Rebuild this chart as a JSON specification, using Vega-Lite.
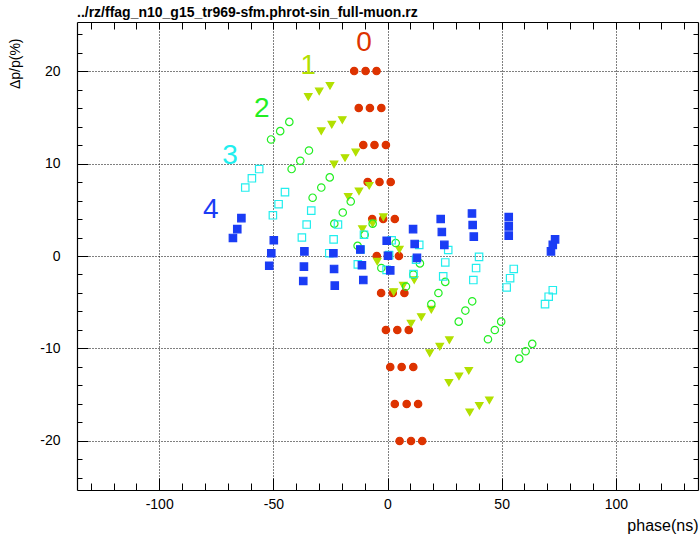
{
  "$schema": "https://vega.github.io/schema/vega-lite/v6.json",
  "width": 621,
  "height": 468,
  "autosize": "none",
  "padding": {"left": 77, "top": 22, "right": 2, "bottom": 49},
  "background": "white",
  "title": {"text": "../rz/ffag_n10_g15_tr969-sfm.phrot-sin_full-muon.rz", "anchor": "start", "frame": "group", "font": "Liberation Sans", "fontSize": 14, "fontWeight": "bold", "color": "#000000", "baseline": "bottom", "offset": 4, "dy": 16},
  "config": {
    "view": {"stroke": null},
    "axis": {"domainColor": "#000000", "domainWidth": 1.2, "tickColor": "#000000", "tickWidth": 1, "labelColor": "#000000", "titleColor": "#000000", "labelFont": "Liberation Sans", "titleFont": "Liberation Sans", "labelFontSize": 14, "titleFontSize": 16, "titleFontWeight": "normal", "gridColor": "#000000", "gridDash": [1, 2], "gridWidth": 1}
  },
  "datasets": {
    "pts": [
      {"s": "0", "x": -14.6, "y": 20}, {"s": "0", "x": -9.6, "y": 20}, {"s": "0", "x": -4.8, "y": 20},
      {"s": "0", "x": -12.6, "y": 16}, {"s": "0", "x": -7.7, "y": 16}, {"s": "0", "x": -2.7, "y": 16},
      {"s": "0", "x": -10.6, "y": 12}, {"s": "0", "x": -5.7, "y": 12}, {"s": "0", "x": -0.7, "y": 12},
      {"s": "0", "x": -8.7, "y": 8}, {"s": "0", "x": -3.5, "y": 8}, {"s": "0", "x": 1.4, "y": 8},
      {"s": "0", "x": -6.7, "y": 4}, {"s": "0", "x": -1.9, "y": 4}, {"s": "0", "x": 3.2, "y": 4},
      {"s": "0", "x": -4.7, "y": 0}, {"s": "0", "x": 0.2, "y": 0}, {"s": "0", "x": 5.0, "y": 0},
      {"s": "0", "x": -2.8, "y": -4}, {"s": "0", "x": 2.3, "y": -4}, {"s": "0", "x": 7.4, "y": -4},
      {"s": "0", "x": -0.7, "y": -8}, {"s": "0", "x": 4.3, "y": -8}, {"s": "0", "x": 9.3, "y": -8},
      {"s": "0", "x": 1.2, "y": -12}, {"s": "0", "x": 6.2, "y": -12}, {"s": "0", "x": 11.3, "y": -12},
      {"s": "0", "x": 3.2, "y": -16}, {"s": "0", "x": 8.4, "y": -16}, {"s": "0", "x": 13.4, "y": -16},
      {"s": "0", "x": 5.3, "y": -20}, {"s": "0", "x": 10.3, "y": -20}, {"s": "0", "x": 15.2, "y": -20},
      {"s": "1", "x": -34.7, "y": 17.2}, {"s": "1", "x": -29.9, "y": 17.8}, {"s": "1", "x": -25.2, "y": 18.4},
      {"s": "1", "x": -29.0, "y": 13.5}, {"s": "1", "x": -24.4, "y": 14.2}, {"s": "1", "x": -19.8, "y": 14.7},
      {"s": "1", "x": -23.4, "y": 9.9}, {"s": "1", "x": -18.6, "y": 10.6}, {"s": "1", "x": -13.9, "y": 11.2},
      {"s": "1", "x": -17.2, "y": 6.4}, {"s": "1", "x": -12.5, "y": 7.0}, {"s": "1", "x": -8.0, "y": 7.6},
      {"s": "1", "x": -11.0, "y": 2.9}, {"s": "1", "x": -6.5, "y": 3.5}, {"s": "1", "x": -1.8, "y": 4.2},
      {"s": "1", "x": -4.5, "y": -0.6}, {"s": "1", "x": 0.3, "y": 0.05}, {"s": "1", "x": 5.2, "y": 0.7},
      {"s": "1", "x": 2.7, "y": -3.9}, {"s": "1", "x": 6.9, "y": -3.2}, {"s": "1", "x": 11.7, "y": -2.6},
      {"s": "1", "x": 10.3, "y": -7.3}, {"s": "1", "x": 14.8, "y": -6.6}, {"s": "1", "x": 19.2, "y": -5.8},
      {"s": "1", "x": 18.5, "y": -10.5}, {"s": "1", "x": 22.9, "y": -9.8}, {"s": "1", "x": 27.1, "y": -9.1},
      {"s": "1", "x": 26.9, "y": -13.7}, {"s": "1", "x": 31.3, "y": -13.0}, {"s": "1", "x": 35.6, "y": -12.4},
      {"s": "1", "x": 36.0, "y": -16.9}, {"s": "1", "x": 40.2, "y": -16.2}, {"s": "1", "x": 44.6, "y": -15.6},
      {"s": "2", "x": -51.0, "y": 12.6}, {"s": "2", "x": -47.0, "y": 13.5}, {"s": "2", "x": -43.0, "y": 14.5},
      {"s": "2", "x": -42.0, "y": 9.4}, {"s": "2", "x": -38.2, "y": 10.3}, {"s": "2", "x": -34.4, "y": 11.4},
      {"s": "2", "x": -32.8, "y": 6.3}, {"s": "2", "x": -29.0, "y": 7.4}, {"s": "2", "x": -25.3, "y": 8.5},
      {"s": "2", "x": -23.3, "y": 3.5}, {"s": "2", "x": -19.6, "y": 4.7}, {"s": "2", "x": -16.1, "y": 5.9},
      {"s": "2", "x": -13.1, "y": 1.1}, {"s": "2", "x": -10.0, "y": 2.3}, {"s": "2", "x": -6.5, "y": 3.5},
      {"s": "2", "x": -2.7, "y": -1.3}, {"s": "2", "x": 0.4, "y": 0.05}, {"s": "2", "x": 3.6, "y": 1.4},
      {"s": "2", "x": 8.1, "y": -3.3}, {"s": "2", "x": 11.3, "y": -2.0}, {"s": "2", "x": 14.2, "y": -0.8},
      {"s": "2", "x": 19.2, "y": -5.2}, {"s": "2", "x": 22.3, "y": -4.0}, {"s": "2", "x": 25.3, "y": -2.8},
      {"s": "2", "x": 31.2, "y": -7.1}, {"s": "2", "x": 34.1, "y": -5.9}, {"s": "2", "x": 37.1, "y": -4.9},
      {"s": "2", "x": 44.0, "y": -9.0}, {"s": "2", "x": 47.0, "y": -8.0}, {"s": "2", "x": 49.8, "y": -7.1},
      {"s": "2", "x": 57.7, "y": -11.1}, {"s": "2", "x": 60.5, "y": -10.3}, {"s": "2", "x": 63.4, "y": -9.5},
      {"s": "3", "x": -62.3, "y": 7.4}, {"s": "3", "x": -59.4, "y": 8.4}, {"s": "3", "x": -56.2, "y": 9.4},
      {"s": "3", "x": -50.2, "y": 4.4}, {"s": "3", "x": -47.7, "y": 5.6}, {"s": "3", "x": -44.9, "y": 6.9},
      {"s": "3", "x": -37.5, "y": 2.0}, {"s": "3", "x": -35.4, "y": 3.4}, {"s": "3", "x": -33.4, "y": 4.9},
      {"s": "3", "x": -25.5, "y": 0.3}, {"s": "3", "x": -23.6, "y": 1.8}, {"s": "3", "x": -21.7, "y": 3.4},
      {"s": "3", "x": -13.0, "y": -0.9}, {"s": "3", "x": -11.8, "y": 0.7}, {"s": "3", "x": -10.3, "y": 2.3},
      {"s": "3", "x": -0.4, "y": -1.5}, {"s": "3", "x": 0.7, "y": 0.1}, {"s": "3", "x": 1.8, "y": 1.7},
      {"s": "3", "x": 11.4, "y": -1.95}, {"s": "3", "x": 12.5, "y": -0.4}, {"s": "3", "x": 13.9, "y": 1.2},
      {"s": "3", "x": 24.4, "y": -2.2}, {"s": "3", "x": 25.3, "y": -0.7}, {"s": "3", "x": 26.6, "y": 0.65},
      {"s": "3", "x": 37.6, "y": -2.6}, {"s": "3", "x": 38.8, "y": -1.3}, {"s": "3", "x": 40.1, "y": -0.1},
      {"s": "3", "x": 52.2, "y": -3.4}, {"s": "3", "x": 53.7, "y": -2.4}, {"s": "3", "x": 55.3, "y": -1.4},
      {"s": "3", "x": 69.0, "y": -5.2}, {"s": "3", "x": 70.6, "y": -4.4}, {"s": "3", "x": 72.4, "y": -3.7},
      {"s": "4", "x": -67.7, "y": 1.95}, {"s": "4", "x": -65.8, "y": 2.9}, {"s": "4", "x": -64.0, "y": 4.1},
      {"s": "4", "x": -51.8, "y": -1.05}, {"s": "4", "x": -50.9, "y": 0.3}, {"s": "4", "x": -49.8, "y": 1.7},
      {"s": "4", "x": -36.9, "y": -2.7}, {"s": "4", "x": -36.6, "y": -1.15}, {"s": "4", "x": -36.4, "y": 0.5},
      {"s": "4", "x": -23.1, "y": -3.2}, {"s": "4", "x": -23.4, "y": -1.4}, {"s": "4", "x": -23.7, "y": 0.3},
      {"s": "4", "x": -10.6, "y": -2.6}, {"s": "4", "x": -11.2, "y": -1.0}, {"s": "4", "x": -11.9, "y": 0.7},
      {"s": "4", "x": 1.2, "y": -1.55}, {"s": "4", "x": 0.2, "y": 0.03}, {"s": "4", "x": -0.35, "y": 1.65},
      {"s": "4", "x": 12.9, "y": -0.2}, {"s": "4", "x": 11.9, "y": 1.3}, {"s": "4", "x": 11.2, "y": 2.9},
      {"s": "4", "x": 24.9, "y": 1.2}, {"s": "4", "x": 23.8, "y": 2.6}, {"s": "4", "x": 23.3, "y": 4.0},
      {"s": "4", "x": 37.8, "y": 2.1}, {"s": "4", "x": 37.3, "y": 3.35}, {"s": "4", "x": 37.0, "y": 4.6},
      {"s": "4", "x": 53.1, "y": 2.2}, {"s": "4", "x": 53.1, "y": 3.2}, {"s": "4", "x": 53.1, "y": 4.2},
      {"s": "4", "x": 71.6, "y": 0.5}, {"s": "4", "x": 72.4, "y": 1.2}, {"s": "4", "x": 73.4, "y": 1.8}
    ],
    "labels": [
      {"s": "0", "t": "0", "x": -10.3, "y": 23.0},
      {"s": "1", "t": "1", "x": -34.7, "y": 20.5},
      {"s": "2", "t": "2", "x": -55.1, "y": 15.9},
      {"s": "3", "t": "3", "x": -69.0, "y": 10.8},
      {"s": "4", "t": "4", "x": -77.4, "y": 5.0}
    ]
  },
  "layer": [
    {
      "data": {"name": "pts"},
      "mark": {"type": "point", "size": 55, "strokeWidth": 1.2, "opacity": 1},
      "encoding": {
        "x": {"field": "x", "type": "quantitative", "scale": {"domain": [-136, 136], "nice": false, "zero": false},
          "axis": {"orient": "bottom", "values": [-100, -50, 0, 50, 100], "ticks": false, "grid": true,
            "labelExpr": "'' + datum.value", "labelPadding": 7, "labelFlush": false, "labelOverlap": false,
            "title": "phase(ns)", "titleAnchor": "end", "titleAlign": "right", "titleX": 621, "titleY": 40, "titleBaseline": "alphabetic"}},
        "y": {"field": "y", "type": "quantitative", "scale": {"domain": [-25.3, 25.3], "nice": false, "zero": false},
          "axis": {"orient": "left", "values": [-20, -10, 0, 10, 20], "ticks": false, "grid": true,
            "labelExpr": "'' + datum.value", "labelPadding": 17, "labelFlush": false, "labelOverlap": false,
            "title": "Δp/p(%)", "titleAnchor": "end", "titleAngle": -90, "titleAlign": "right", "titleBaseline": "middle", "titleX": -62, "titleY": 16, "titleFontSize": 14}},
        "stroke": {"field": "s", "type": "nominal", "scale": {"domain": ["0", "1", "2", "3", "4"], "range": ["#dd3300", "#b2e000", "#22ee22", "#22eeee", "#1a3cf5"]}, "legend": null},
        "fill": {"field": "s", "type": "nominal", "scale": {"domain": ["0", "1", "2", "3", "4"], "range": ["#dd3300", "#b2e000", "transparent", "transparent", "#1a3cf5"]}, "legend": null},
        "shape": {"field": "s", "type": "nominal", "scale": {"domain": ["0", "1", "2", "3", "4"], "range": ["circle", "triangle-down", "circle", "square", "square"]}, "legend": null}
      }
    },
    {
      "data": {"name": "labels"},
      "transform": [{"filter": "datum.s === '0' || datum.s === '1' || datum.s === '2'"}],
      "mark": {"type": "text", "font": "Liberation Sans", "fontSize": 28, "align": "center", "baseline": "middle"},
      "encoding": {
        "x": {"field": "x", "type": "quantitative",
          "axis": {"orient": "top", "offset": -468, "values": [-130, -120, -110, -100, -90, -80, -70, -60, -50, -40, -30, -20, -10, 0, 10, 20, 30, 40, 50, 60, 70, 80, 90, 100, 110, 120, 130],
            "tickSize": {"condition": {"test": "datum.value % 50 === 0", "value": 12}, "value": 7}, "labels": false, "domain": false, "grid": false, "title": null}},
        "y": {"field": "y", "type": "quantitative",
          "axis": {"orient": "right", "offset": -621, "values": [-24, -22, -20, -18, -16, -14, -12, -10, -8, -6, -4, -2, 0, 2, 4, 6, 8, 10, 12, 14, 16, 18, 20, 22, 24],
            "tickSize": {"condition": {"test": "datum.value % 10 === 0", "value": 11}, "value": 5}, "labels": false, "domain": false, "grid": false, "title": null}},
        "text": {"field": "t"},
        "color": {"field": "s", "type": "nominal", "scale": {"domain": ["0", "1", "2", "3", "4"], "range": ["#dd3300", "#b2e000", "#22ee22", "#22eeee", "#1a3cf5"]}, "legend": null}
      }
    },
    {
      "data": {"name": "labels"},
      "transform": [{"filter": "datum.s === '3' || datum.s === '4'"}],
      "mark": {"type": "text", "font": "Liberation Sans", "fontSize": 28, "align": "center", "baseline": "middle"},
      "encoding": {
        "x": {"field": "x", "type": "quantitative",
          "axis": {"orient": "bottom", "offset": -468, "values": [-130, -120, -110, -100, -90, -80, -70, -60, -50, -40, -30, -20, -10, 0, 10, 20, 30, 40, 50, 60, 70, 80, 90, 100, 110, 120, 130],
            "tickSize": 7, "labels": false, "domain": true, "grid": false, "title": null}},
        "y": {"field": "y", "type": "quantitative",
          "axis": {"orient": "left", "offset": -621, "values": [-24, -22, -20, -18, -16, -14, -12, -10, -8, -6, -4, -2, 0, 2, 4, 6, 8, 10, 12, 14, 16, 18, 20, 22, 24],
            "tickSize": 5, "labels": false, "domain": true, "grid": false, "title": null}},
        "text": {"field": "t"},
        "color": {"field": "s", "type": "nominal", "scale": {"domain": ["0", "1", "2", "3", "4"], "range": ["#dd3300", "#b2e000", "#22ee22", "#22eeee", "#1a3cf5"]}, "legend": null}
      }
    }
  ],
  "resolve": {"axis": {"x": "independent", "y": "independent"}}
}
